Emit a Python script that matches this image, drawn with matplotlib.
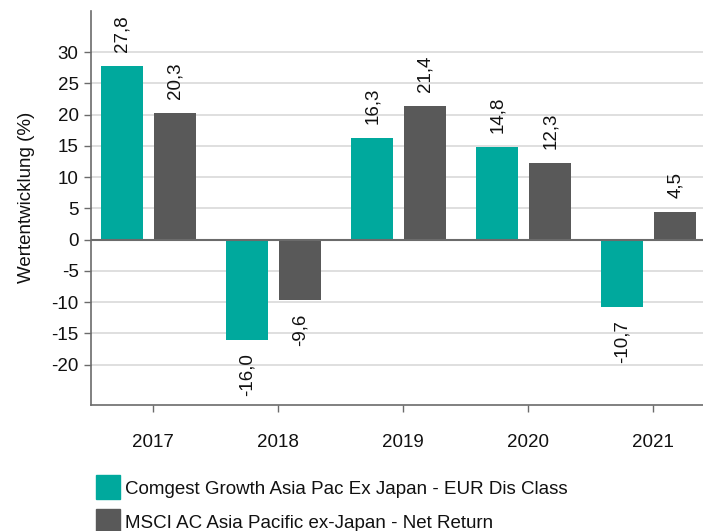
import matplotlib
matplotlib.use("Agg")
import matplotlib.pyplot as plt
from matplotlib.patches import Rectangle
import numpy as np

years = ["2017", "2018", "2019", "2020", "2021"]
fund = [27.8, -16.0, 16.3, 14.8, -10.7]
index = [20.3, -9.6, 21.4, 12.3, 4.5]
series_names = ["Comgest Growth Asia Pac Ex Japan - EUR Dis Class",
                "MSCI AC Asia Pacific ex-Japan - Net Return"]
yticks = [30, 25, 20, 15, 10, 5, 0, -5, -10, -15, -20]

teal = "#00A99D"
grey = "#595959"
FS = 13.5

plt.rcParams["font.family"] = ["Liberation Sans", "DejaVu Sans"]

W, H = 703, 531
fig = plt.figure(figsize=(W / 100, H / 100), dpi=100)
ax = fig.add_axes([91 / W, 1 - 404.7 / H, (703 - 91) / W, (404.7 - 11) / H])

x = np.arange(len(years))
bw = 0.338
off_f = -0.248
off_i = 0.176
ax.bar(x + off_f, fund, width=bw, color=teal, zorder=3)
ax.bar(x + off_i, index, width=bw, color=grey, zorder=3)

def fmt(v):
    return f"{v:.1f}".replace(".", ",")

for xs, vals in ((x + off_f, fund), (x + off_i, index)):
    for xi, v in zip(xs, vals):
        ax.annotate(fmt(v), (xi, v), xytext=(0, 10 if v >= 0 else -10),
                    textcoords="offset points", rotation=90,
                    ha="center", va="bottom" if v >= 0 else "top",
                    fontsize=FS, color="#111111")

ax.set_xlim(-0.498, 4.398)
ax.set_ylim(-26.4, 36.6)
ax.set_yticks(yticks)
ax.set_yticklabels([str(t) for t in yticks])
ax.set_xticks(x)
ax.set_xticklabels(years)
for t in yticks:
    if t != 0:
        ax.axhline(t, color="#d9d9d9", lw=1.2, zorder=1)
ax.axhline(0, color="#6b6b6b", lw=1.5, zorder=4)

for s in ("top", "right"):
    ax.spines[s].set_visible(False)
for s in ("left", "bottom"):
    ax.spines[s].set_color("#6b6b6b")
    ax.spines[s].set_linewidth(1.2)
ax.tick_params(axis="y", length=5, width=1, color="#6b6b6b", pad=4, labelsize=FS, labelcolor="#111111")
ax.tick_params(axis="x", length=5, width=1, color="#6b6b6b", pad=16, labelsize=FS, labelcolor="#111111")

fig.text(27 / W, 1 - 197 / H, "Wertentwicklung (%)", rotation=90, ha="center", va="center",
         fontsize=FS, color="#111111")

# legend
for i, (name, col) in enumerate(zip(series_names, [teal, grey])):
    y0 = 475 + 34 * i
    fig.patches.append(Rectangle((96 / W, 1 - (y0 + 24) / H), 24 / W, 24 / H,
                                 transform=fig.transFigure, color=col, figure=fig))
    fig.text(125 / W, 1 - (y0 + 14) / H, name, ha="left", va="center", fontsize=FS, color="#111111")

fig.savefig("out.png", dpi=100)
